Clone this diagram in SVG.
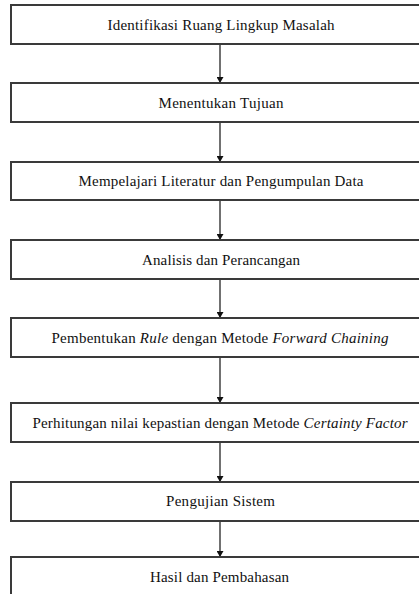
<svg xmlns="http://www.w3.org/2000/svg" width="419" height="594" viewBox="0 0 419 594">
<style>
.box{fill:#fff;stroke:#3a3a3a;stroke-width:2}
.t{font-family:'Liberation Serif','Times New Roman',serif;font-size:15px;fill:#111;text-anchor:middle}
.c{stroke:#111;stroke-width:1.2;fill:none;marker-end:url(#ah)}
</style>
<defs>
<marker id="ah" markerWidth="7" markerHeight="7" refX="6" refY="3.5" orient="auto" markerUnits="userSpaceOnUse">
<path d="M0,0 L6,3.5 L0,7 Z" fill="#111"/>
</marker>
</defs>
<rect width="419" height="594" fill="#fff"/>
<g id="connectors">
<line class="c" x1="220" y1="44" x2="220" y2="83"/>
<line class="c" x1="220" y1="122" x2="220" y2="162"/>
<line class="c" x1="220" y1="200" x2="220" y2="240"/>
<line class="c" x1="220" y1="279" x2="220" y2="318"/>
<line class="c" x1="220" y1="357" x2="220" y2="403"/>
<line class="c" x1="220" y1="442" x2="220" y2="482"/>
<line class="c" x1="220" y1="521" x2="220" y2="557"/>
</g>
<g id="n1"><rect class="box" x="11" y="5" width="420" height="39"/><text class="t" x="221" y="29.5" textLength="227">Identifikasi Ruang Lingkup Masalah</text></g>
<g id="n2"><rect class="box" x="11" y="83" width="420" height="39"/><text class="t" x="221" y="107.5" textLength="125">Menentukan Tujuan</text></g>
<g id="n3"><rect class="box" x="11" y="162" width="420" height="38"/><text class="t" x="221" y="186" textLength="285">Mempelajari Literatur dan Pengumpulan Data</text></g>
<g id="n4"><rect class="box" x="11" y="240" width="420" height="39"/><text class="t" x="221" y="265" textLength="158">Analisis dan Perancangan</text></g>
<g id="n5"><rect class="box" x="11" y="318" width="420" height="39"/><text class="t" x="220" y="342.5" textLength="337">Pembentukan <tspan font-style="italic">Rule</tspan> dengan Metode <tspan font-style="italic">Forward Chaining</tspan></text></g>
<g id="n6"><rect class="box" x="11" y="403" width="420" height="39"/><text class="t" x="220" y="428" textLength="375">Perhitungan nilai kepastian dengan Metode <tspan font-style="italic">Certainty Factor</tspan></text></g>
<g id="n7"><rect class="box" x="11" y="482" width="420" height="39"/><text class="t" x="220.5" y="506" textLength="109">Pengujian Sistem</text></g>
<g id="n8"><rect class="box" x="11" y="557" width="420" height="40"/><text class="t" x="219.5" y="581.5" textLength="139">Hasil dan Pembahasan</text></g>
</svg>
